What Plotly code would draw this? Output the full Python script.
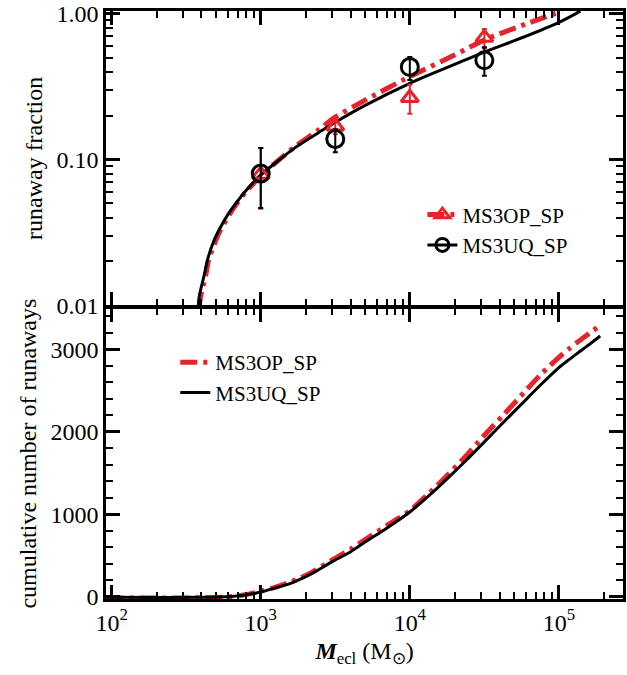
import plotly.graph_objects as go

# ---------------- data ----------------
# top panel: runaway fraction curves
m_uq_top = [380, 388, 417, 441, 490, 527, 603, 681, 794, 1000, 1259, 1710, 2449, 3162, 5012, 10000, 19953, 31623, 60256, 100000, 139316]
f_uq_top = [0.0095, 0.0117, 0.016, 0.0208, 0.0284, 0.0331, 0.042, 0.050, 0.061, 0.078, 0.095, 0.121, 0.153, 0.180, 0.235, 0.333, 0.448, 0.545, 0.70, 0.87, 1.04]
m_op_top = [385, 395, 427, 447, 501, 537, 617, 692, 794, 1000, 1259, 1710, 2449, 3162, 5012, 10000, 19953, 31623, 60256, 104713]
f_op_top = [0.0095, 0.0115, 0.016, 0.0205, 0.028, 0.033, 0.042, 0.050, 0.060, 0.077, 0.095, 0.123, 0.160, 0.195, 0.255, 0.37, 0.52, 0.66, 0.85, 1.04]

# top panel: simulation points with error bars
m_pts = [1000, 3162, 10000, 31623]
f_op_pts = [0.079, 0.169, 0.265, 0.685]
f_op_plus = [0.041, 0.020, 0.060, 0.100]
f_op_minus = [0.033, 0.020, 0.059, 0.107]
f_uq_pts = [0.080, 0.138, 0.431, 0.479]
f_uq_plus = [0.040, 0.023, 0.074, 0.109]
f_uq_minus = [0.0335, 0.026, 0.080, 0.104]

# bottom panel: cumulative number of runaways
m_uq_bot = [92, 398, 631, 794, 1000, 1259, 1585, 1799, 2239, 3000, 3981, 5012, 7079, 10000,
            13490, 17989, 23988, 31623, 42658, 58479, 75858, 100000, 117490, 138038, 162181, 189234]
n_uq_bot = [-5, -5, 5, 25, 60, 110, 165, 206, 290, 425, 545, 665, 840, 1030,
            1230, 1440, 1660, 1880, 2120, 2370, 2575, 2780, 2880, 2975, 3070, 3163]
m_op_bot = [92, 398, 631, 794, 1000, 1259, 1585, 1799, 2239, 3000, 3981, 5012, 7079, 10000,
            13490, 17989, 23988, 31623, 42658, 58479, 75858, 100000, 117490, 138038, 158489, 179887]
n_op_bot = [-12, -10, 3, 28, 70, 120, 180, 222, 305, 445, 575, 695, 870, 1045,
            1260, 1480, 1715, 1960, 2210, 2480, 2700, 2905, 3010, 3110, 3190, 3262]

names = ["MS3OP_SP", "MS3UQ_SP"]
x_tickvals = [100, 1000, 10000, 100000]
x_ticktext = ["10<sup>2</sup>", "10<sup>3</sup>", "10<sup>4</sup>", "10<sup>5</sup>"]
ytop_tickvals = [0.01, 0.1, 1.0]
ytop_ticktext = ["0.01", "0.10", "1.00"]
ybot_tickvals = [0, 1000, 2000, 3000]

# ---------------- style ----------------
RED = "#e8232b"
BLACK = "#000000"
FONT = "Liberation Serif, Times New Roman, Times, serif"
DASH = "17px,6px,4px,6px"

x_minor = [k * 10 ** e for e in range(1, 6) for k in range(2, 10)]
y_minor_top = [k * 10 ** e for e in (-2, -1) for k in range(2, 10)]
y_minor_bot = [v for v in range(200, 3600, 200) if v % 1000 != 0]

fig = go.Figure()

# top curves
fig.add_trace(go.Scatter(x=m_op_top, y=f_op_top, mode="lines", xaxis="x", yaxis="y",
                         line=dict(color=RED, width=5, dash=DASH, shape="spline", smoothing=0.8),
                         showlegend=False))
fig.add_trace(go.Scatter(x=m_uq_top, y=f_uq_top, mode="lines", xaxis="x", yaxis="y",
                         line=dict(color=BLACK, width=3, shape="spline", smoothing=0.8),
                         showlegend=False))
# points
fig.add_trace(go.Scatter(x=m_pts, y=f_op_pts, mode="markers", xaxis="x", yaxis="y",
                         marker=dict(symbol="triangle-up-open", size=15, color=RED, line=dict(width=3, color=RED)),
                         error_y=dict(type="data", array=f_op_plus, arrayminus=f_op_minus,
                                      color=RED, thickness=2, width=2.5),
                         showlegend=False))
fig.add_trace(go.Scatter(x=m_pts, y=f_uq_pts, mode="markers", xaxis="x", yaxis="y",
                         marker=dict(symbol="circle-open", size=17, color=BLACK, line=dict(width=3, color=BLACK)),
                         error_y=dict(type="data", array=f_uq_plus, arrayminus=f_uq_minus,
                                      color=BLACK, thickness=2, width=2.5),
                         showlegend=False))
# legend-only entries for the top panel
fig.add_trace(go.Scatter(x=[None], y=[None], mode="lines+markers", name=names[0], xaxis="x", yaxis="y",
                         marker=dict(symbol="triangle-up-open", size=13, color=RED, line=dict(width=3, color=RED)),
                         line=dict(color=RED, width=5, dash=DASH), legend="legend"))
fig.add_trace(go.Scatter(x=[None], y=[None], mode="lines+markers", name=names[1], xaxis="x", yaxis="y",
                         marker=dict(symbol="circle-open", size=13, color=BLACK, line=dict(width=3, color=BLACK)),
                         line=dict(color=BLACK, width=3), legend="legend"))

# bottom curves
fig.add_trace(go.Scatter(x=m_op_bot, y=n_op_bot, mode="lines", xaxis="x2", yaxis="y2",
                         name=names[0], line=dict(color=RED, width=5, dash=DASH, shape="spline", smoothing=0.8),
                         legend="legend2"))
fig.add_trace(go.Scatter(x=m_uq_bot, y=n_uq_bot, mode="lines", xaxis="x2", yaxis="y2",
                         name=names[1], line=dict(color=BLACK, width=3, shape="spline", smoothing=0.8),
                         legend="legend2"))

axis_common = dict(showline=True, linewidth=2.5, linecolor=BLACK, mirror="ticks", ticks="inside",
                   tickwidth=2.5, tickcolor=BLACK, ticklen=14, showgrid=False, zeroline=False,
                   ticklabeloverflow="allow",
                   tickfont=dict(family=FONT, size=24, color=BLACK))
minor_common = dict(ticks="inside", ticklen=7, tickwidth=2, tickcolor=BLACK, showgrid=False)

split = 295 / 594
gap = 1.25 / 594
fig.update_layout(
    width=627, height=675,
    margin=dict(l=106, r=1, t=5, b=76),
    paper_bgcolor="white", plot_bgcolor="white",
    font=dict(family=FONT, size=21, color=BLACK),
    xaxis=dict(axis_common, type="log", range=[1.962, 5.43], domain=[0, 1], anchor="y",
               tickmode="array", tickvals=x_tickvals, showticklabels=False,
               minor=dict(minor_common, tickmode="array", tickvals=x_minor), matches="x2"),
    yaxis=dict(axis_common, type="log", range=[-2.003, 0.018], domain=[split + gap, 1], anchor="x",
               tickmode="array", tickvals=ytop_tickvals, ticktext=ytop_ticktext,
               minor=dict(minor_common, tickmode="array", tickvals=y_minor_top),
               title=dict(text="runaway fraction", font=dict(family=FONT, size=24, color=BLACK), standoff=8)),
    xaxis2=dict(axis_common, type="log", range=[1.962, 5.43], domain=[0, 1], anchor="y2",
                tickmode="array", tickvals=x_tickvals, ticktext=x_ticktext,
                minor=dict(minor_common, tickmode="array", tickvals=x_minor),
                title=dict(text="<b><i>M</i></b><sub>ecl</sub> (M<sub>⊙</sub>)",
                           font=dict(family=FONT, size=24, color=BLACK), standoff=8)),
    yaxis2=dict(axis_common, range=[-25, 3500], domain=[0, split - gap], anchor="x2",
                tickmode="array", tickvals=ybot_tickvals,
                minor=dict(minor_common, tickmode="array", tickvals=y_minor_bot),
                title=dict(text="cumulative number of runaways", font=dict(family=FONT, size=24, color=BLACK), standoff=8)),
    legend=dict(x=0.612, y=0.688, xanchor="left", yanchor="top", bgcolor="rgba(0,0,0,0)",
                font=dict(family=FONT, size=21, color=BLACK), itemwidth=30, tracegroupgap=0),
    legend2=dict(x=0.134, y=0.437, xanchor="left", yanchor="top", bgcolor="rgba(0,0,0,0)",
                 font=dict(family=FONT, size=21, color=BLACK), itemwidth=30, tracegroupgap=0),
)

fig.write_html("out.html")
